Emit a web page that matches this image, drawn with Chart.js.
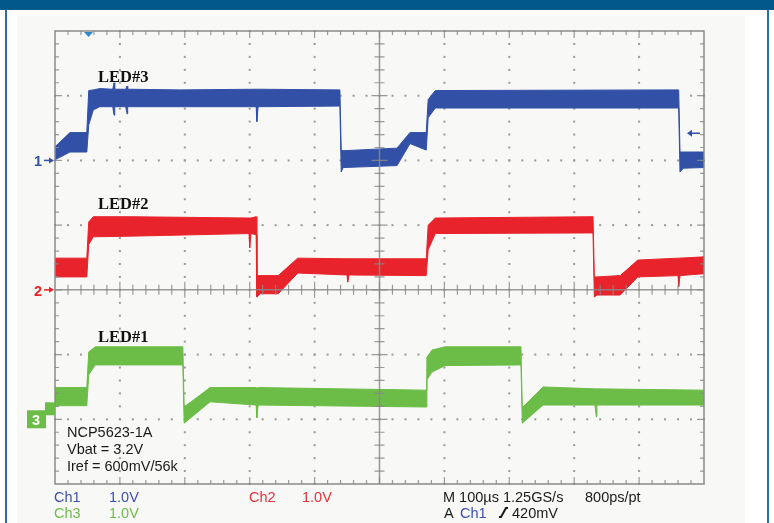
<!DOCTYPE html>
<html>
<head>
<meta charset="utf-8">
<script src="https://cdn.jsdelivr.net/npm/chart.js@4"></script>
<style>
  html, body { margin: 0; padding: 0; background: #ffffff; }
  canvas { display: block; }
</style>
</head>
<body>
<canvas id="scope" width="774" height="523"></canvas>
<script>
// Screen: 10 horizontal divisions, 7 visible vertical divisions (1.0V/div)
const timeDivs = [0, 10];
const voltDivs = [-3, 4];

// Channel ground offsets (divisions) and colours
const channelNames = ['LED#3', 'LED#2', 'LED#1'];
const channelOffsets = [2, 0, -2];
const channelColors = ['#3150a6', '#e8232b', '#6cbd47'];

// Ch1 (LED#3) noise band, volts vs. time in divisions
const ch1Time  = [0, 0.23, 0.49, 0.52, 0.59, 0.69, 0.89, 0.91, 0.92, 1.09, 1.11, 1.12, 1.93, 3.10, 3.11, 3.13, 4.39, 4.41, 4.44, 5.27, 5.47, 5.72, 5.75, 5.86, 9.61, 9.63, 9.68, 10];
const ch1Upper = [0.21, 0.43, 0.43, 1.08, 1.09, 1.11, 1.10, 1.20, 1.10, 1.10, 1.15, 1.10, 1.09, 1.10, 1.10, 1.10, 1.09, 0.16, 0.15, 0.19, 0.43, 0.43, 0.94, 1.08, 1.09, 0.13, 0.13, 0.13];
const ch1Lower = [0.01, 0.13, 0.13, 0.55, 0.78, 0.83, 0.83, 0.70, 0.83, 0.83, 0.72, 0.83, 0.83, 0.83, 0.60, 0.83, 0.84, -0.18, -0.11, -0.08, 0.26, 0.16, 0.66, 0.81, 0.81, -0.18, -0.12, -0.11];

// Ch2 (LED#2)
const ch2Time  = [0, 0.49, 0.52, 0.59, 1.16, 2.99, 3.00, 3.02, 3.10, 3.11, 3.16, 3.44, 3.74, 4.50, 4.51, 4.53, 5.72, 5.75, 5.86, 8.29, 8.31, 8.35, 8.71, 8.98, 9.60, 9.61, 9.63, 10];
const ch2Upper = [0.49, 0.49, 1.05, 1.13, 1.13, 1.11, 1.11, 1.11, 1.13, 0.22, 0.22, 0.22, 0.49, 0.48, 0.48, 0.48, 0.48, 1.00, 1.11, 1.13, 0.20, 0.20, 0.22, 0.46, 0.49, 0.49, 0.49, 0.51];
const ch2Lower = [0.20, 0.20, 0.70, 0.82, 0.83, 0.87, 0.65, 0.87, 0.85, -0.11, -0.06, -0.06, 0.26, 0.23, 0.12, 0.23, 0.22, 0.62, 0.87, 0.88, -0.11, -0.08, -0.08, 0.20, 0.22, 0.05, 0.22, 0.25];

// Ch3 (LED#1)
const ch3Time  = [0, 0.49, 0.52, 0.62, 1.97, 1.99, 2.39, 3.10, 3.11, 3.13, 5.72, 5.73, 5.81, 6.01, 7.18, 7.20, 7.52, 8.32, 8.34, 8.35, 10];
const ch3Upper = [0.49, 0.49, 1.04, 1.12, 1.12, 0.19, 0.49, 0.49, 0.47, 0.49, 0.45, 0.96, 1.07, 1.12, 1.12, 0.18, 0.50, 0.47, 0.47, 0.47, 0.45];
const ch3Lower = [0.21, 0.21, 0.69, 0.84, 0.84, -0.06, 0.27, 0.22, 0.02, 0.22, 0.19, 0.61, 0.73, 0.83, 0.84, -0.06, 0.22, 0.22, 0.04, 0.22, 0.22];

function bandDatasets(name, time, upper, lower, offset, color) {
    const common = { borderColor: color, backgroundColor: color, borderWidth: 1, pointRadius: 0, tension: 0 };
    return [
        { ...common, label: name + ' max', data: time.map((t, i) => ({ x: t, y: upper[i] + offset })), fill: false },
        { ...common, label: name + ' min', data: time.map((t, i) => ({ x: t, y: lower[i] + offset })), fill: '-1' }
    ];
}

const datasets = [
    ...bandDatasets(channelNames[0], ch1Time, ch1Upper, ch1Lower, channelOffsets[0], channelColors[0]),
    ...bandDatasets(channelNames[1], ch2Time, ch2Upper, ch2Lower, channelOffsets[1], channelColors[1]),
    ...bandDatasets(channelNames[2], ch3Time, ch3Upper, ch3Lower, channelOffsets[2], channelColors[2])
];

// Background frame of the screenshot
const framePlugin = {
    id: 'frame',
    beforeDraw(chart) {
        const ctx = chart.ctx;
        ctx.save();
        ctx.fillStyle = '#ffffff';
        ctx.fillRect(0, 0, chart.width, chart.height);
        ctx.fillStyle = '#f8f8f6';
        ctx.fillRect(17, 16, 728, chart.height - 16);
        ctx.fillStyle = '#00598a';
        ctx.fillRect(0, 0, chart.width, 10);
        ctx.fillStyle = '#2570ab';
        ctx.fillRect(5, 10, 2, chart.height - 10);
        ctx.fillRect(767, 10, 2, chart.height - 10);
        ctx.restore();
    }
};

// Scope graticule: dotted divisions under the traces, centre cross and ticks on top
const graticulePlugin = {
    id: 'graticule',
    beforeDatasetsDraw(chart) {
        const ctx = chart.ctx;
        const xs = chart.scales.x, ys = chart.scales.y;
        const minor = 0.2;
        ctx.save();
        ctx.fillStyle = '#9a9a9a';
        for (let d = timeDivs[0] + 1; d < timeDivs[1]; d++) {
            if (d === 5) continue;
            const px = xs.getPixelForValue(d);
            for (let v = voltDivs[0]; v <= voltDivs[1] + 1e-6; v += minor) {
                ctx.fillRect(px - 1, ys.getPixelForValue(v) - 1, 2, 2);
            }
        }
        for (let d = voltDivs[0] + 1; d < voltDivs[1]; d++) {
            if (d === 0) continue;
            const py = ys.getPixelForValue(d);
            for (let t = timeDivs[0]; t <= timeDivs[1] + 1e-6; t += minor) {
                ctx.fillRect(xs.getPixelForValue(t) - 1, py - 1, 2, 2);
            }
        }
        ctx.restore();
    },
    afterDatasetsDraw(chart) {
        const ctx = chart.ctx;
        const xs = chart.scales.x, ys = chart.scales.y;
        const a = chart.chartArea;
        const minor = 0.2;
        ctx.save();
        ctx.strokeStyle = '#8a8a8a';
        ctx.lineWidth = 1.5;
        ctx.strokeRect(a.left, a.top, a.right - a.left, a.bottom - a.top);
        const cx = xs.getPixelForValue(5), cy = ys.getPixelForValue(0);
        ctx.globalAlpha = 0.85;
        ctx.beginPath();
        ctx.moveTo(cx, a.top); ctx.lineTo(cx, a.bottom);
        ctx.moveTo(a.left, cy); ctx.lineTo(a.right, cy);
        ctx.stroke();
        ctx.lineWidth = 1.2;
        ctx.beginPath();
        for (let t = timeDivs[0] + minor; t < timeDivs[1] - 1e-6; t += minor) {
            const major = Math.abs(t - Math.round(t)) < 1e-6;
            const px = xs.getPixelForValue(t);
            const len = major ? 7 : 4;
            ctx.moveTo(px, a.top); ctx.lineTo(px, a.top + len);
            ctx.moveTo(px, a.bottom); ctx.lineTo(px, a.bottom - len);
            const half = major ? 8 : 5;
            ctx.moveTo(px, cy - half); ctx.lineTo(px, cy + half);
        }
        for (let v = voltDivs[0] + minor; v < voltDivs[1] - 1e-6; v += minor) {
            const major = Math.abs(v - Math.round(v)) < 1e-6;
            const py = ys.getPixelForValue(v);
            const len = major ? 7 : 4;
            ctx.moveTo(a.left, py); ctx.lineTo(a.left + len, py);
            ctx.moveTo(a.right, py); ctx.lineTo(a.right - len, py);
            const half = major ? 8 : 5;
            ctx.moveTo(cx - half, py); ctx.lineTo(cx + half, py);
        }
        ctx.stroke();
        ctx.restore();
    }
};

// Labels, channel markers and readouts
const labelPlugin = {
    id: 'labels',
    afterDraw(chart) {
        const ctx = chart.ctx;
        const ys = chart.scales.y;
        ctx.save();
        ctx.textBaseline = 'alphabetic';

        ctx.fillStyle = '#111111';
        ctx.font = 'bold 16.5px "Liberation Serif", "DejaVu Serif", serif';
        ctx.fillText(channelNames[0], 98, 82);
        ctx.fillText(channelNames[1], 98, 209);
        ctx.fillText(channelNames[2], 98, 342);

        // ground markers
        ctx.font = 'bold 14.5px "Liberation Sans", Arial, sans-serif';
        const marker = (txt, offset, color) => {
            const py = ys.getPixelForValue(offset);
            ctx.fillStyle = color;
            ctx.strokeStyle = color;
            ctx.fillText(txt, 34, py + 6);
            ctx.lineWidth = 1.5;
            ctx.beginPath(); ctx.moveTo(44, py); ctx.lineTo(50, py); ctx.stroke();
            ctx.beginPath(); ctx.moveTo(49, py - 3); ctx.lineTo(54, py); ctx.lineTo(49, py + 3); ctx.closePath(); ctx.fill();
        };
        marker('1', channelOffsets[0], channelColors[0]);
        marker('2', channelOffsets[1], channelColors[1]);
        const g = ys.getPixelForValue(channelOffsets[2]);
        ctx.fillStyle = channelColors[2];
        ctx.fillRect(27, g - 9, 19, 18);
        ctx.fillRect(45, g - 17, 10, 13);
        ctx.fillStyle = '#ffffff';
        ctx.fillText('3', 32, g + 6);

        // trigger position and level markers
        ctx.fillStyle = '#2f86c8';
        ctx.beginPath(); ctx.moveTo(84, 32); ctx.lineTo(93, 32); ctx.lineTo(88.5, 37); ctx.closePath(); ctx.fill();
        const trig = ys.getPixelForValue(channelOffsets[0] + 0.42);
        ctx.strokeStyle = channelColors[0];
        ctx.fillStyle = channelColors[0];
        ctx.lineWidth = 1.5;
        ctx.beginPath(); ctx.moveTo(691, trig); ctx.lineTo(700, trig); ctx.stroke();
        ctx.beginPath(); ctx.moveTo(692, trig - 3.5); ctx.lineTo(687, trig); ctx.lineTo(692, trig + 3.5); ctx.closePath(); ctx.fill();

        // notes in graticule
        ctx.fillStyle = '#1a1a1a';
        ctx.font = '14.5px "Liberation Sans", Arial, sans-serif';
        ctx.fillText('NCP5623-1A', 67, 437);
        ctx.fillText('Vbat = 3.2V', 67, 454);
        ctx.fillText('Iref = 600mV/56k', 67, 471);

        // readouts
        const ch1Text = '#3d4fae', ch2Text = '#e8323a', ch3Text = '#6cbd47';
        ctx.fillStyle = ch1Text; ctx.fillText('Ch1', 54, 502); ctx.fillText('1.0V', 109, 502);
        ctx.fillStyle = ch2Text; ctx.fillText('Ch2', 249, 502); ctx.fillText('1.0V', 302, 502);
        ctx.fillStyle = ch3Text; ctx.fillText('Ch3', 54, 518); ctx.fillText('1.0V', 109, 518);
        ctx.fillStyle = '#1a1a1a';
        ctx.fillText('M 100\u00b5s 1.25GS/s', 443, 502);
        ctx.fillText('800ps/pt', 585, 502);
        ctx.fillText('A', 444, 518);
        ctx.fillStyle = ch1Text; ctx.fillText('Ch1', 460, 518);
        ctx.strokeStyle = '#1a1a1a';
        ctx.lineWidth = 2;
        ctx.beginPath();
        ctx.moveTo(499, 517); ctx.lineTo(501, 517); ctx.lineTo(506, 508); ctx.lineTo(508, 508);
        ctx.stroke();
        ctx.fillStyle = '#1a1a1a';
        ctx.fillText('420mV', 512, 518);
        ctx.restore();
    }
};

new Chart(document.getElementById('scope'), {
    type: 'line',
    data: { datasets },
    options: {
        responsive: false,
        animation: false,
        layout: { padding: { left: 55, right: 70, top: 31, bottom: 39 } },
        scales: {
            x: { type: 'linear', min: timeDivs[0], max: timeDivs[1], display: false },
            y: { type: 'linear', min: voltDivs[0], max: voltDivs[1], display: false }
        },
        plugins: {
            legend: { display: false },
            tooltip: { enabled: false }
        }
    },
    plugins: [framePlugin, graticulePlugin, labelPlugin]
});
</script>
</body>
</html>
